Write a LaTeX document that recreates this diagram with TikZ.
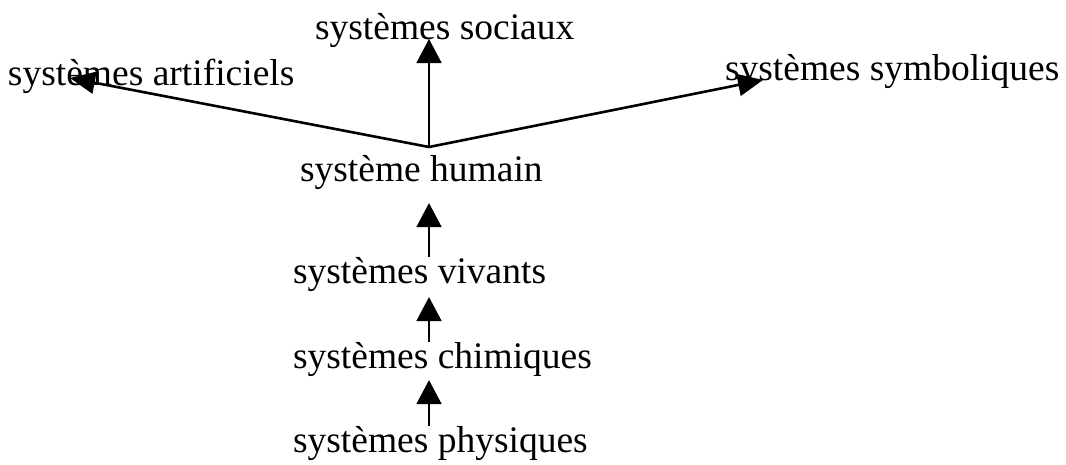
\documentclass[tikz,border=0pt]{standalone}
\usepackage{fontspec}
\setmainfont{Liberation Serif}
\usepackage{tikz}
\usetikzlibrary{positioning, arrows.meta}

\begin{document}
\begin{tikzpicture}[x=1pt, y=-1pt]
\tikzstyle{sysname}=[anchor=base west, inner sep=0pt, outer sep=0pt, font=\fontsize{37.5}{44}\selectfont]
\tikzstyle{uparrow}=[line width=1.8pt, -{Triangle[length=24pt, width=25pt]}]
\tikzstyle{fanarrow}=[line width=2.6pt, -{Triangle[length=25pt, width=22pt]}]

\useasboundingbox (0,0) rectangle (1066,464);

% upper level
\node (sociaux) [sysname] at (315,39) {systèmes sociaux};
\node (artif) [sysname] at (8,85) {systèmes artificiels};
\node (symb) [sysname] at (725,80) {systèmes symboliques};

% stack
\node (humain) [sysname] at (300,181) {système humain};
\node (vivants) [sysname] at (293,283) {systèmes vivants};
\node (chim) [sysname] at (293,368) {systèmes chimiques};
\node (phys) [sysname] at (293,452) {systèmes physiques};

\coordinate (hub) at (429,147);
\coordinate (artiftip) at (70,78);
\coordinate (symbtip) at (763,80);

% connections
\draw[uparrow] (hub) -- (sociaux.base -| hub);
\draw[fanarrow] (hub) -- (artiftip);
\draw[fanarrow] (hub) -- (symbtip);
\draw[uparrow, shorten >=14pt] (vivants.north -| hub) -- (humain.south -| hub);
\draw[uparrow, shorten >=6pt] (chim.north -| hub) -- (vivants.south -| hub);
\draw[uparrow, shorten >=4pt] (phys.north -| hub) -- (chim.south -| hub);

\end{tikzpicture}
\end{document}
